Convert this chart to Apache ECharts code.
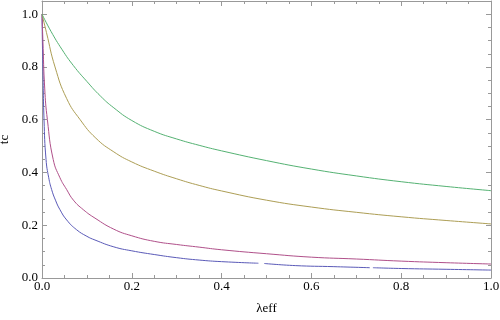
<!DOCTYPE html>
<html>
<head>
<meta charset="utf-8">
<script src="https://cdn.jsdelivr.net/npm/echarts@6/dist/echarts.min.js"></script>
<style>
  html, body { margin: 0; padding: 0; background: #fff; }
  #chart { width: 500px; height: 320px; }
</style>
</head>
<body>
<div id="chart"></div>
<script>
// values (null = gap in the drawn curve)
const lamBlue = [0, 0.001, 0.002, 0.0045, 0.009, 0.015, 0.0215, 0.03, 0.04, 0.055, 0.077, 0.1, 0.118, 0.16, 0.2, 0.25, 0.3, 0.35, 0.4, 0.482, 0.488, 0.495, 0.564, 0.65, 0.73, 0.733, 0.737, 0.8, 0.9, 1.0];
const tcBlue = [1.0, 0.88, 0.8, 0.6, 0.449, 0.38, 0.335, 0.295, 0.259, 0.22, 0.183, 0.158, 0.144, 0.118, 0.103, 0.089, 0.077, 0.068, 0.062, 0.056, null, 0.055, 0.047, 0.043, 0.039, null, 0.039, 0.036, 0.033, 0.030];

const lamPurple = [0, 0.002, 0.006, 0.012, 0.025, 0.04, 0.055, 0.07, 0.092, 0.118, 0.16, 0.2, 0.25, 0.3, 0.35, 0.4, 0.5, 0.6, 0.7, 0.8, 0.9, 1.0];
const tcPurple = [1.0, 0.9, 0.72, 0.6, 0.449, 0.38, 0.335, 0.295, 0.259, 0.227, 0.185, 0.16, 0.139, 0.127, 0.117, 0.107, 0.092, 0.079, 0.072, 0.064, 0.058, 0.053];

const lamOlive = [0, 0.01, 0.029, 0.055, 0.085, 0.12, 0.16, 0.2, 0.25, 0.3, 0.35, 0.4, 0.5, 0.6, 0.7, 0.8, 0.9, 1.0];
const tcOlive = [1.0, 0.93, 0.8, 0.68, 0.6, 0.53, 0.478, 0.44, 0.405, 0.376, 0.351, 0.33, 0.295, 0.269, 0.249, 0.232, 0.218, 0.205];

const lamGreen = [0, 0.02, 0.045, 0.07, 0.1, 0.13, 0.16, 0.2, 0.25, 0.3, 0.35, 0.4, 0.5, 0.6, 0.7, 0.8, 0.9, 1.0];
const tcGreen = [1.0, 0.935, 0.865, 0.805, 0.745, 0.69, 0.645, 0.597, 0.556, 0.527, 0.503, 0.482, 0.445, 0.413, 0.387, 0.365, 0.347, 0.331];

const frameColor = "#999999";
const font = "Liberation Serif";

function pairs(xs, ys) {
  return xs.map((x, i) => [x, ys[i]]);
}

function makeAxis(dim, position, interval, tickLen, showLine, showLabel) {
  const isX = dim === "x";
  return {
    type: "value",
    position,
    min: 0,
    max: isX ? 1 : 1.05,
    interval,
    splitLine: { show: false },
    axisLine: { show: showLine, onZero: false, lineStyle: { color: frameColor, width: 1 } },
    axisTick: { show: true, inside: true, length: tickLen, lineStyle: { color: frameColor, width: 1 } },
    axisLabel: {
      show: showLabel,
      showMaxLabel: isX,
      color: "#000",
      fontFamily: font,
      fontSize: 13,
      margin: isX ? 2 : 4,
      formatter: v => v.toFixed(1)
    }
  };
}

const xMain = makeAxis("x", "bottom", 0.2, 5, true, true);
xMain.name = "λeff";
xMain.nameLocation = "middle";
xMain.nameGap = 24;
xMain.nameTextStyle = { color: "#000", fontFamily: font, fontSize: 13 };

const yMain = makeAxis("y", "left", 0.2, 5, true, true);
yMain.name = "tc";
yMain.nameLocation = "middle";
yMain.nameGap = 22;
yMain.nameTextStyle = { color: "#000", fontFamily: font, fontSize: 13 };

const chart = echarts.init(document.getElementById("chart"));
chart.setOption({
  animation: false,
  backgroundColor: "#fff",
  textStyle: { fontFamily: font },
  grid: { left: 42, right: 9, top: 1, bottom: 42, containLabel: false, outerBoundsMode: "none" },
  xAxis: [
    xMain,
    makeAxis("x", "bottom", 0.05, 3, false, false),
    makeAxis("x", "top", 0.2, 5, true, false),
    makeAxis("x", "top", 0.05, 3, false, false)
  ],
  yAxis: [
    yMain,
    makeAxis("y", "left", 0.05, 3, false, false),
    makeAxis("y", "right", 0.2, 5, true, false),
    makeAxis("y", "right", 0.05, 3, false, false)
  ],
  series: [
    { name: "blue", data: pairs(lamBlue, tcBlue), color: "#5a5ab8" },
    { name: "purple", data: pairs(lamPurple, tcPurple), color: "#b0508a" },
    { name: "olive", data: pairs(lamOlive, tcOlive), color: "#ad9e55" },
    { name: "green", data: pairs(lamGreen, tcGreen), color: "#55b273" }
  ].map(s => ({
    type: "line",
    name: s.name,
    data: s.data,
    xAxisIndex: 0,
    yAxisIndex: 0,
    showSymbol: false,
    smooth: 0.5,
    connectNulls: false,
    lineStyle: { color: s.color, width: 1 },
    itemStyle: { color: s.color }
  }))
});
</script>
</body>
</html>
